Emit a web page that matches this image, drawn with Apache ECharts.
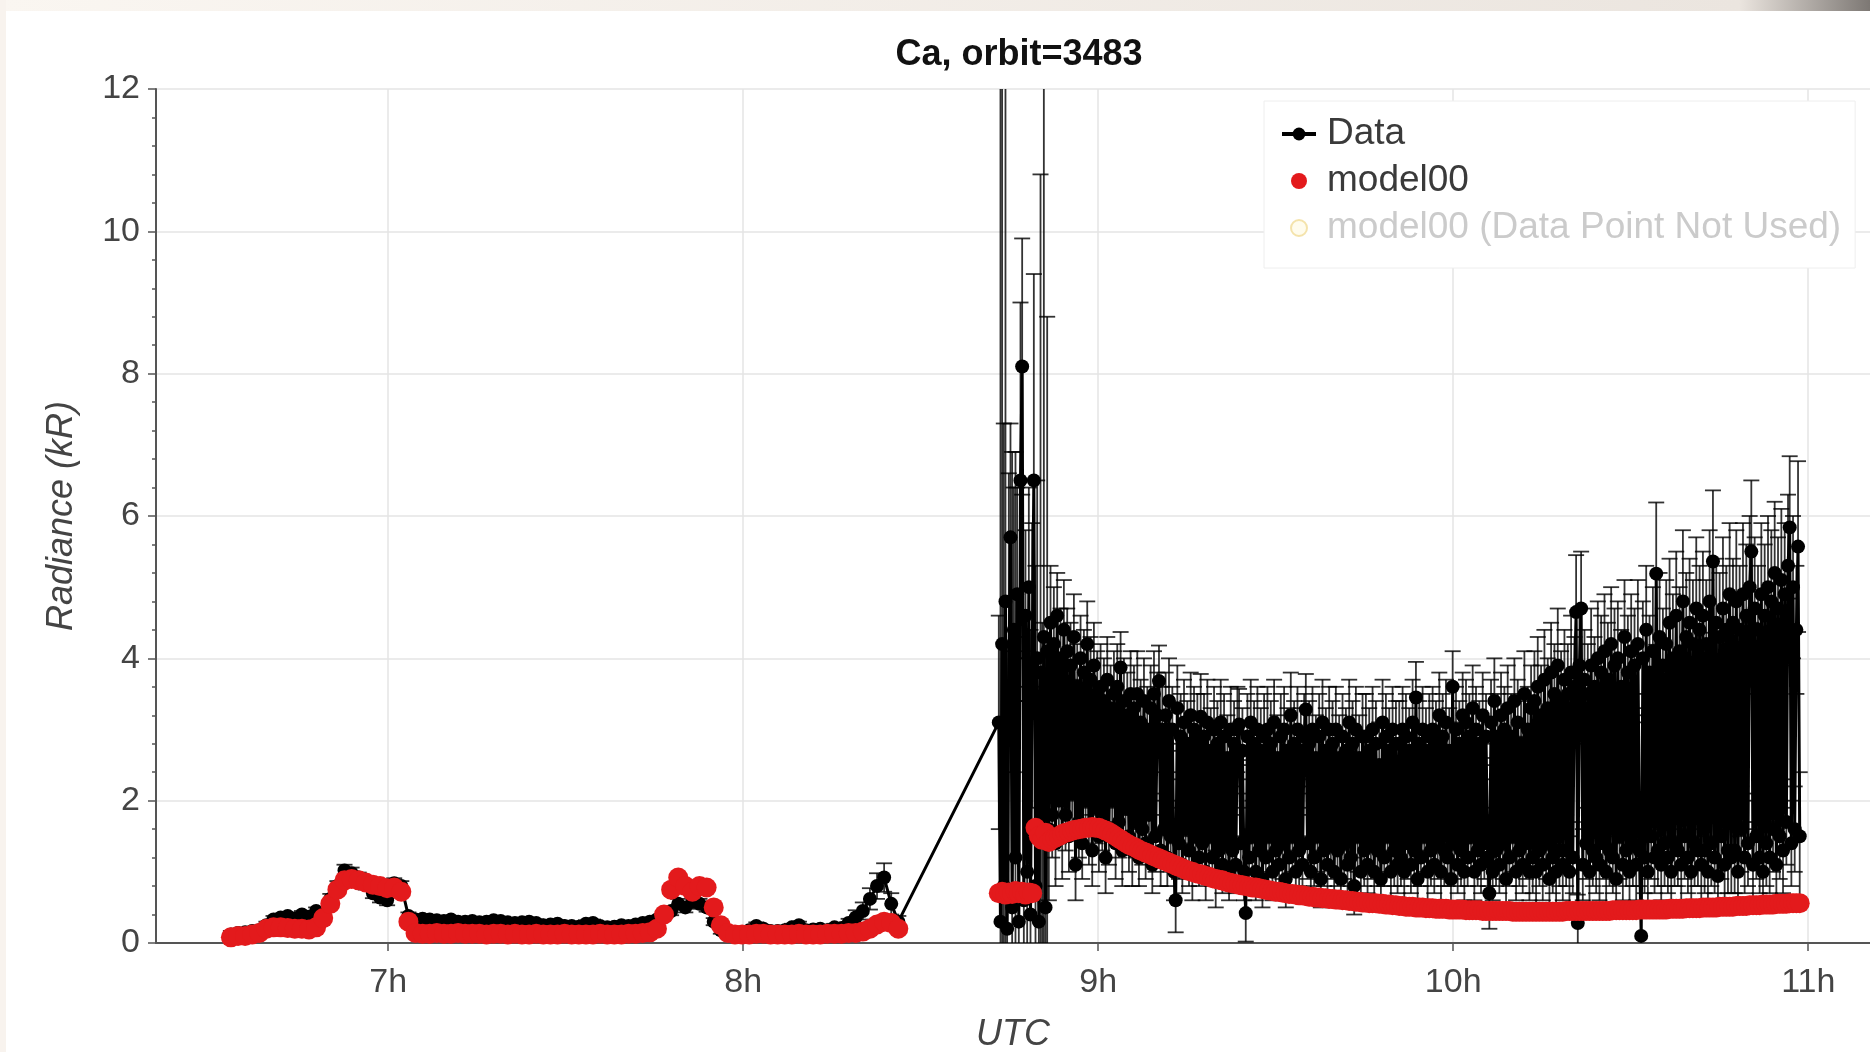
<!DOCTYPE html>
<html lang="en">
<head>
	<meta charset="UTF-8">
	<title>Ca, orbit=3483</title>
	<script src="https://cdn.jsdelivr.net/npm/echarts@6/dist/echarts.min.js"></script>
	<style>
		html, body { margin: 0; padding: 0; background: #fff; }
		#app { width: 1870px; height: 1052px; }
	</style>
</head>
<body>
	<div id="app"></div>

	<script>
		// observing cadence (hours UTC)
		var seg1Start = 6.557, seg1Step = 0.02;   // first segment, data and model
		var seg2Start = 8.72, seg2Step = 0.0047;  // second segment, data
		var mod2Start = 8.72, mod2Step = 0.0094;  // second segment, model

		// first segment: data, 1-sigma error, model
		var seg1Data = [
			0.12,0.14,0.15,0.17,0.18,0.25,0.33,0.36,0.38,0.34,
			0.40,0.37,0.45,0.40,0.62,0.80,1.02,0.98,0.92,0.82,
			0.70,0.64,0.60,0.84,0.80,0.38,0.33,0.34,0.33,0.32,
			0.31,0.33,0.30,0.30,0.31,0.29,0.30,0.32,0.31,0.29,
			0.28,0.29,0.30,0.28,0.25,0.26,0.27,0.24,0.24,0.23,
			0.27,0.28,0.24,0.22,0.23,0.25,0.24,0.26,0.28,0.30,
			0.33,0.40,0.45,0.55,0.50,0.58,0.55,0.50,0.30,0.18,
			0.12,0.15,0.14,0.18,0.24,0.20,0.17,0.17,0.18,0.22,
			0.25,0.18,0.19,0.20,0.18,0.22,0.21,0.28,0.36,0.45,
			0.62,0.80,0.92,0.55,0.30
		];
		var seg1Err = [
			0.05,0.05,0.05,0.05,0.05,0.05,0.05,0.05,0.05,0.05,
			0.05,0.05,0.05,0.05,0.07,0.07,0.08,0.08,0.07,0.07,
			0.07,0.07,0.07,0.07,0.07,0.05,0.05,0.05,0.05,0.05,
			0.05,0.05,0.05,0.05,0.05,0.05,0.05,0.05,0.05,0.05,
			0.05,0.05,0.05,0.05,0.05,0.05,0.05,0.05,0.05,0.05,
			0.05,0.05,0.05,0.05,0.05,0.05,0.05,0.05,0.05,0.05,
			0.05,0.06,0.06,0.07,0.07,0.07,0.07,0.06,0.05,0.05,
			0.05,0.05,0.05,0.05,0.05,0.05,0.05,0.05,0.05,0.05,
			0.05,0.05,0.05,0.05,0.05,0.05,0.05,0.06,0.10,0.12,
			0.15,0.18,0.20,0.15,0.08
		];
		var seg1Model = [
			0.08,0.10,0.10,0.12,0.14,0.20,0.22,0.22,0.21,0.20,
			0.20,0.19,0.22,0.35,0.55,0.75,0.88,0.90,0.88,0.85,
			0.82,0.80,0.77,0.78,0.72,0.30,0.14,0.13,0.13,0.14,
			0.13,0.13,0.14,0.13,0.13,0.13,0.12,0.13,0.13,0.12,
			0.13,0.12,0.12,0.13,0.12,0.12,0.12,0.13,0.12,0.12,
			0.12,0.12,0.13,0.12,0.12,0.12,0.13,0.13,0.14,0.15,
			0.20,0.40,0.75,0.92,0.80,0.72,0.80,0.78,0.50,0.25,
			0.14,0.12,0.12,0.12,0.13,0.13,0.12,0.12,0.12,0.12,
			0.13,0.12,0.12,0.12,0.13,0.13,0.13,0.14,0.14,0.16,
			0.20,0.26,0.30,0.28,0.20
		];

		// second segment data (20 per row)
		var seg2Data = [
			3.1,0.3,4.2,0.8,4.8,0.2,3.6,5.7,0.5,4.4,1.2,4.9,0.3,6.5,8.1,0.6,4.6,1.0,5.0,0.4,
			3.9,6.5,0.8,4.0,0.3,3.8,1.5,4.3,0.5,4.1,1.6,4.5,1.8,4.2,1.4,4.6,2.0,4.0,1.5,4.4,
			1.8,4.1,1.5,3.9,2.1,4.3,1.1,3.6,1.7,4.0,1.4,3.8,2.0,4.2,1.6,3.7,1.3,3.9,1.9,3.5,
			1.5,3.6,1.8,3.4,1.2,3.7,1.6,3.3,2.0,3.5,1.4,3.6,1.7,3.87,1.3,3.4,1.9,3.2,1.5,3.5,
			1.3,3.3,1.7,3.5,1.2,3.1,1.6,3.4,1.4,3.0,1.8,3.3,1.1,3.5,1.5,3.2,3.68,1.3,3.0,1.6,
			3.2,1.2,3.4,1.5,3.0,1.0,0.6,3.3,1.4,2.9,1.1,3.1,1.6,2.8,1.3,3.2,1.0,3.0,1.5,2.9,
			1.2,3.18,1.4,2.9,1.0,3.1,1.5,2.7,1.2,3.0,0.9,2.8,1.3,3.1,1.1,2.9,1.4,2.6,1.0,3.0,
			1.3,2.8,1.1,3.0,3.07,1.4,2.7,1.0,0.42,2.9,1.2,3.1,1.5,2.8,1.0,3.0,1.3,2.7,0.9,2.9,
			1.2,3.0,1.5,2.8,1.0,3.1,1.3,2.6,1.1,2.9,1.4,3.0,0.9,2.7,1.2,3.2,1.5,2.8,1.0,3.0,
			1.3,2.7,1.1,2.9,3.28,1.4,2.8,1.0,3.0,1.2,2.6,1.5,2.9,0.9,3.1,1.3,2.7,1.1,3.0,1.4,
			2.8,1.0,3.0,1.3,2.6,0.9,2.9,1.4,2.7,1.1,3.1,1.2,2.8,0.8,3.0,1.5,2.6,1.0,2.9,1.3,
			2.9,1.1,2.7,1.4,3.0,1.0,2.8,1.3,2.5,0.9,3.1,1.2,2.9,1.5,2.7,1.0,3.0,1.3,2.8,1.1,
			2.8,1.2,3.0,1.0,2.9,1.4,2.7,1.1,3.1,1.3,3.45,0.9,2.8,1.2,3.0,1.5,2.7,1.0,2.9,1.3,
			3.0,1.1,2.8,1.4,3.2,1.0,2.9,1.3,3.1,1.2,2.7,0.9,3.6,1.4,3.0,1.1,2.8,1.3,3.2,1.0,
			3.1,1.2,2.9,1.5,3.3,1.0,3.0,1.3,2.8,1.1,3.2,1.4,2.9,1.2,0.7,3.1,1.0,3.4,1.3,2.9,
			1.1,3.2,1.4,3.0,0.9,3.3,1.2,2.9,1.5,3.4,1.0,3.1,1.3,2.8,1.1,3.5,1.4,3.0,1.0,3.3,
			1.2,3.4,1.0,3.6,1.3,3.2,1.1,3.7,1.4,3.3,0.9,3.8,1.2,3.5,1.0,3.9,1.3,3.4,1.1,3.7,
			1.3,3.5,1.0,3.8,1.2,3.6,4.65,0.28,3.9,4.7,1.1,3.7,1.4,3.5,1.0,3.9,1.3,3.6,1.2,4.0,
			1.1,3.8,1.4,4.1,1.0,3.7,1.3,4.2,1.2,3.9,0.9,4.0,1.5,3.6,1.1,4.3,1.3,3.8,1.0,4.1,
			1.4,3.9,1.1,4.2,1.3,0.1,4.0,1.2,4.4,1.0,3.8,1.5,4.1,1.2,5.19,1.3,4.3,1.1,3.9,1.4,
			4.2,1.2,4.5,1.0,4.0,1.4,4.6,1.3,4.1,1.1,4.8,1.5,4.3,1.2,4.5,1.0,4.2,1.4,4.7,1.3,
			4.4,1.1,4.6,1.3,4.2,1.0,4.8,1.4,5.36,1.2,4.5,0.94,4.3,1.5,4.7,1.1,4.4,1.3,4.9,1.2,
			4.5,1.3,4.8,1.0,4.4,1.6,4.9,1.2,4.6,1.4,5.0,5.5,1.1,4.7,1.5,4.4,1.2,4.9,1.0,4.6,
			1.4,5.0,1.2,4.8,1.6,5.2,1.1,4.7,1.5,5.1,1.3,4.9,1.7,5.3,5.84,1.4,5.0,1.6,4.4,5.57,
			1.5
		];
		var seg2Err = [
			1.5,12,8.0,6.5,12,4.0,3.0,1.6,6.4,2.0,5.7,1.5,4.0,2.5,1.8,3.5,1.2,3.0,1.4,4.0,
			2.0,2.9,4.5,2.5,3.0,7.0,3.0,12,3.5,4.7,1.0,0.8,0.6,0.8,0.6,0.6,0.6,0.7,0.6,0.7,
			0.5,0.6,0.5,0.6,0.5,0.6,0.5,0.6,0.5,0.6,0.5,0.6,0.5,0.6,0.5,0.6,0.5,0.6,0.5,0.6,
			0.5,0.6,0.5,0.6,0.5,0.6,0.5,0.6,0.5,0.6,0.5,0.6,0.5,0.5,0.5,0.6,0.5,0.6,0.5,0.6,
			0.5,0.6,0.5,0.6,0.4,0.6,0.5,0.6,0.5,0.6,0.5,0.6,0.4,0.6,0.5,0.6,0.5,0.5,0.6,0.5,
			0.6,0.4,0.6,0.5,0.6,0.4,0.45,0.6,0.5,0.6,0.4,0.6,0.5,0.6,0.5,0.6,0.4,0.6,0.5,0.6,
			0.4,0.6,0.5,0.6,0.4,0.6,0.5,0.6,0.4,0.6,0.4,0.6,0.5,0.6,0.4,0.6,0.5,0.6,0.4,0.6,
			0.5,0.6,0.4,0.6,0.5,0.5,0.6,0.4,0.4,0.6,0.4,0.6,0.5,0.6,0.4,0.6,0.5,0.6,0.4,0.6,
			0.4,0.6,0.5,0.6,0.4,0.6,0.5,0.6,0.4,0.6,0.5,0.6,0.4,0.6,0.4,0.6,0.5,0.6,0.4,0.6,
			0.5,0.6,0.4,0.6,0.5,0.5,0.6,0.4,0.6,0.4,0.6,0.5,0.6,0.4,0.6,0.5,0.6,0.4,0.6,0.5,
			0.6,0.4,0.6,0.5,0.6,0.4,0.6,0.5,0.6,0.4,0.6,0.4,0.6,0.4,0.6,0.5,0.6,0.4,0.6,0.5,
			0.6,0.4,0.6,0.5,0.6,0.4,0.6,0.5,0.6,0.4,0.6,0.4,0.6,0.5,0.6,0.4,0.6,0.5,0.6,0.4,
			0.6,0.4,0.6,0.4,0.6,0.5,0.6,0.4,0.6,0.5,0.5,0.4,0.6,0.4,0.6,0.5,0.6,0.4,0.6,0.5,
			0.6,0.4,0.6,0.5,0.6,0.4,0.6,0.5,0.6,0.4,0.6,0.4,0.5,0.5,0.6,0.4,0.6,0.5,0.6,0.4,
			0.6,0.4,0.6,0.5,0.6,0.4,0.6,0.5,0.6,0.4,0.6,0.5,0.6,0.4,0.5,0.6,0.4,0.6,0.5,0.6,
			0.4,0.6,0.5,0.6,0.4,0.6,0.4,0.6,0.5,0.6,0.4,0.6,0.5,0.6,0.4,0.6,0.5,0.6,0.4,0.6,
			0.5,0.7,0.5,0.7,0.5,0.7,0.5,0.7,0.5,0.7,0.4,0.7,0.5,0.7,0.5,0.8,0.5,0.7,0.5,0.7,
			0.5,0.7,0.5,0.8,0.5,0.7,0.8,0.4,0.8,0.8,0.5,0.7,0.5,0.7,0.5,0.8,0.5,0.7,0.5,0.8,
			0.5,0.8,0.5,0.8,0.5,0.8,0.5,0.8,0.5,0.8,0.5,0.8,0.6,0.8,0.5,0.8,0.5,0.8,0.5,0.8,
			0.6,0.8,0.5,0.9,0.5,0.4,0.8,0.5,0.9,0.5,0.8,0.6,0.9,0.5,1.0,0.5,0.9,0.5,0.8,0.6,
			0.9,0.5,0.9,0.5,0.9,0.6,0.9,0.5,0.9,0.5,1.0,0.6,0.9,0.5,0.9,0.5,0.9,0.6,1.0,0.5,
			0.9,0.5,0.9,0.6,0.9,0.5,1.0,0.6,1.0,0.5,0.9,0.5,0.9,0.6,1.0,0.5,0.9,0.6,1.0,0.5,
			0.9,0.6,1.0,0.5,0.9,0.6,1.0,0.5,1.0,0.6,1.0,1.0,0.5,1.0,0.6,0.9,0.5,1.0,0.5,1.0,
			0.6,1.0,0.5,1.0,0.6,1.0,0.5,1.0,0.6,1.0,0.6,1.0,0.6,1.0,1.0,0.6,1.0,0.6,0.9,1.2,
			0.9
		];
		// second segment model (20 per row)
		var seg2Model = [
			0.70,0.72,0.68,0.71,0.69,0.73,0.70,0.72,0.68,0.71,0.70,1.62,1.50,1.45,1.55,1.42,1.46,1.48,1.50,1.53,
			1.55,1.56,1.58,1.59,1.60,1.61,1.62,1.62,1.63,1.62,1.62,1.60,1.58,1.56,1.53,1.50,1.47,1.44,1.41,1.38,
			1.36,1.34,1.31,1.29,1.27,1.25,1.23,1.21,1.19,1.17,1.15,1.13,1.11,1.09,1.07,1.05,1.03,1.01,1.00,0.98,
			0.97,0.96,0.94,0.93,0.91,0.90,0.89,0.88,0.86,0.85,0.84,0.83,0.82,0.81,0.80,0.79,0.78,0.78,0.77,0.76,
			0.75,0.74,0.73,0.72,0.72,0.71,0.70,0.69,0.69,0.68,0.67,0.67,0.66,0.65,0.65,0.64,0.64,0.63,0.63,0.62,
			0.62,0.61,0.61,0.60,0.60,0.59,0.59,0.58,0.58,0.57,0.57,0.56,0.56,0.56,0.55,0.55,0.54,0.54,0.53,0.53,
			0.52,0.52,0.51,0.51,0.51,0.50,0.50,0.50,0.49,0.49,0.49,0.48,0.48,0.48,0.48,0.47,0.47,0.47,0.47,0.47,
			0.46,0.46,0.46,0.46,0.46,0.45,0.45,0.45,0.45,0.45,0.45,0.45,0.45,0.45,0.44,0.44,0.44,0.44,0.44,0.44,
			0.44,0.44,0.44,0.44,0.44,0.44,0.44,0.44,0.44,0.44,0.45,0.45,0.45,0.45,0.45,0.45,0.45,0.45,0.45,0.45,
			0.45,0.45,0.45,0.45,0.46,0.46,0.46,0.46,0.46,0.46,0.46,0.46,0.47,0.47,0.47,0.47,0.47,0.47,0.47,0.47,
			0.47,0.48,0.48,0.48,0.48,0.48,0.49,0.49,0.49,0.49,0.49,0.50,0.50,0.50,0.50,0.50,0.51,0.51,0.51,0.51,
			0.51,0.52,0.52,0.52,0.52,0.53,0.53,0.53,0.53,0.54,0.54,0.54,0.54,0.55,0.55,0.55,0.55,0.56,0.56,0.56,0.56
		];

		var xTicks = [7, 8, 9, 10, 11];
		var seriesNames = ["Data", "model00", "model00 (Data Point Not Used)"];

		// [time, value] pairs built from the arrays
		var dataPts = [], errPts = [], modelPts = [];
		function addData(start, step, vals, errs) {
			for (var i = 0; i < vals.length; i++) {
				var t = +(start + i * step).toFixed(4);
				dataPts.push([t, vals[i]]);
				errPts.push([t, vals[i] - errs[i], vals[i] + errs[i]]);
			}
		}
		function addModel(start, step, vals) {
			for (var i = 0; i < vals.length; i++) {
				modelPts.push([+(start + i * step).toFixed(4), vals[i]]);
			}
		}
		addData(seg1Start, seg1Step, seg1Data, seg1Err);
		addData(seg2Start, seg2Step, seg2Data, seg2Err);
		addModel(seg1Start, seg1Step, seg1Model);
		addModel(mod2Start, mod2Step, seg2Model);

		function renderWhisker(params, api) {
			var x = api.value(0);
			var top = api.coord([x, api.value(2)]);
			var bot = api.coord([x, api.value(1)]);
			var cs = params.coordSys;
			var yTop = Math.max(top[1], cs.y);
			var yBot = Math.min(bot[1], cs.y + cs.height);
			var st = { stroke: 'rgba(0,0,0,0.8)', lineWidth: 1.8 };
			var kids = [{ type: 'line', shape: { x1: top[0], y1: yTop, x2: top[0], y2: yBot }, style: st }];
			if (top[1] >= cs.y) {
				kids.push({ type: 'line', shape: { x1: top[0] - 8, y1: top[1], x2: top[0] + 8, y2: top[1] }, style: st });
			}
			if (bot[1] <= cs.y + cs.height) {
				kids.push({ type: 'line', shape: { x1: bot[0] - 8, y1: bot[1], x2: bot[0] + 8, y2: bot[1] }, style: st });
			}
			return { type: 'group', children: kids };
		}

		var myChart = echarts.init(document.getElementById('app'));
		var option = {
			animation: false,
			backgroundColor: '#fff',
			textStyle: { fontFamily: 'Liberation Sans' },
			graphic: [
				{
					type: 'rect', left: 0, top: 0, z: 100,
					shape: { width: 1870, height: 11 },
					style: {
						fill: new echarts.graphic.LinearGradient(0, 0, 1, 0, [
							{ offset: 0, color: '#faf6f1' },
							{ offset: 0.93, color: '#ebe5df' },
							{ offset: 1, color: '#7d7874' }
						])
					}
				},
				{ type: 'rect', left: 0, top: 0, z: 100, shape: { width: 6, height: 1052 }, style: { fill: '#f8f3ee' } }
			],
			title: {
				text: 'Ca, orbit=3483',
				left: 1014,
				top: 32,
				textAlign: 'center',
				textStyle: { fontSize: 36, fontWeight: 'bold', color: '#111' }
			},
			legend: {
				orient: 'vertical',
				left: 1264,
				top: 101,
				padding: [13, 14, 20, 16],
				itemGap: 7,
				itemWidth: 34,
				itemHeight: 16,
				backgroundColor: '#fff',
				borderColor: '#eeeeee',
				borderWidth: 1,
				textStyle: { fontSize: 37, color: '#3a3a3a', lineHeight: 40, padding: [0, 0, 0, 6] },
				data: [
					{ name: seriesNames[0], lineStyle: { width: 4 } },
					{ name: seriesNames[1] },
					{ name: seriesNames[2], textStyle: { color: '#cbcbcb' } }
				]
			},
			grid: {
				left: 156,
				right: 0,
				top: 89,
				bottom: 109,
				containLabel: false,
				outerBoundsMode: 'none'
			},
			xAxis: {
				type: 'value',
				min: 6.346,
				max: 11.174,
				name: 'UTC',
				nameLocation: 'middle',
				nameGap: 74,
				nameTextStyle: { fontSize: 36, fontStyle: 'italic', color: '#444' },
				axisLine: { show: true, lineStyle: { color: '#555', width: 2 } },
				axisTick: { show: true, length: 8, customValues: xTicks, lineStyle: { color: '#555', width: 1.5 } },
				axisLabel: {
					customValues: xTicks,
					margin: 23,
					fontSize: 34,
					color: '#444',
					formatter: function (v) { return v + 'h'; }
				},
				splitLine: { show: true, lineStyle: { color: '#e4e4e4', width: 1.5 } }
			},
			yAxis: {
				type: 'value',
				min: 0,
				max: 12,
				interval: 2,
				name: 'Radiance (kR)',
				nameLocation: 'middle',
				nameGap: 76,
				nameTextStyle: { fontSize: 36, fontStyle: 'italic', color: '#444' },
				axisLine: { show: true, lineStyle: { color: '#555', width: 2 } },
				axisTick: { show: true, length: 8, lineStyle: { color: '#555', width: 1.5 } },
				minorTick: { show: true, splitNumber: 5, length: 4, lineStyle: { color: '#555', width: 1.5 } },
				axisLabel: { margin: 16, fontSize: 34, color: '#444' },
				splitLine: { show: true, lineStyle: { color: '#e4e4e4', width: 1.5 } }
			},
			series: [
				{
					name: 'whiskers',
					type: 'custom',
					renderItem: renderWhisker,
					encode: { x: 0, y: [1, 2] },
					data: errPts,
					clip: true,
					z: 2
				},
				{
					name: seriesNames[0],
					type: 'line',
					data: dataPts,
					symbol: 'circle',
					symbolSize: 14,
					showSymbol: true,
					showAllSymbol: true,
					itemStyle: { color: '#000' },
					lineStyle: { color: '#000', width: 3 },
					clip: true,
					z: 3
				},
				{
					name: seriesNames[1],
					type: 'scatter',
					data: modelPts,
					symbol: 'circle',
					symbolSize: 20,
					itemStyle: { color: '#e31a1c', opacity: 1 },
					z: 4
				},
				{
					name: seriesNames[2],
					type: 'scatter',
					data: [],
					symbol: 'circle',
					itemStyle: { color: '#fffbe8', borderColor: '#f1dc98', borderWidth: 1.5 },
					z: 4
				}
			]
		};
		myChart.setOption(option);
	</script>
</body>
</html>
